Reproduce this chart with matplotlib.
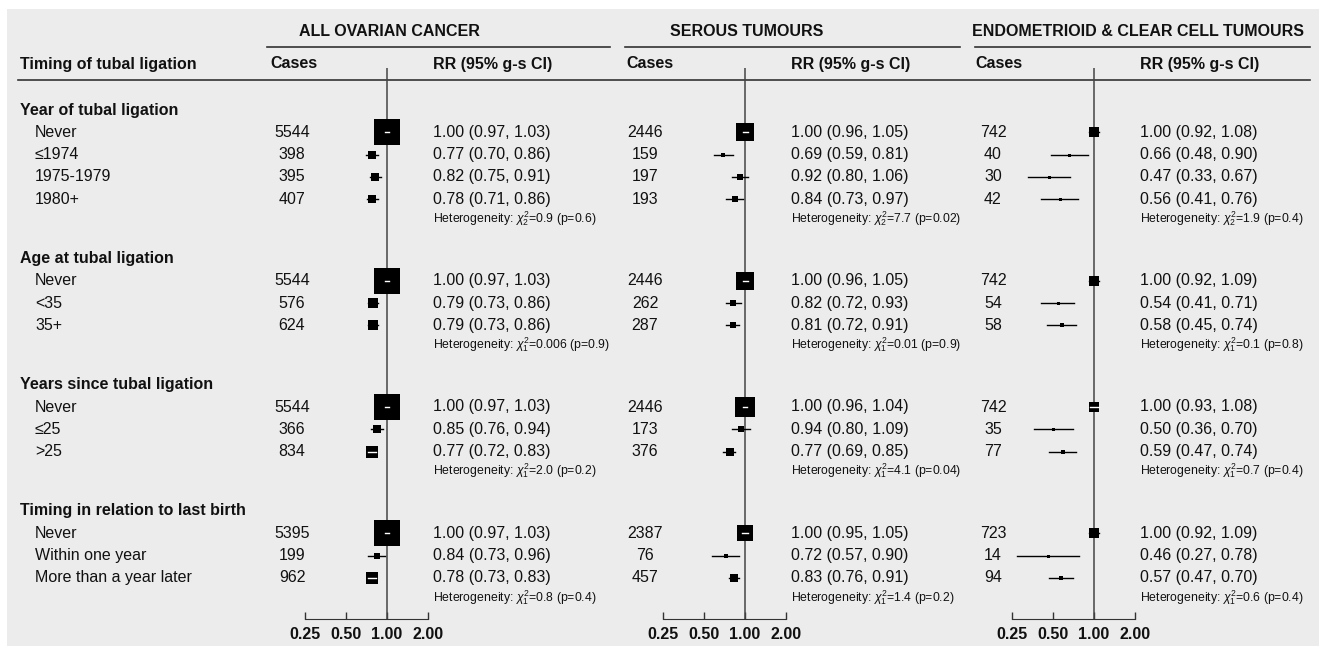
import numpy as np
import matplotlib
matplotlib.use("Agg")
import matplotlib.pyplot as plt
from matplotlib.patches import Rectangle

plt.rcParams['font.family'] = ['Liberation Sans', 'DejaVu Sans']
plt.rcParams['mathtext.fontset'] = 'custom'
plt.rcParams['mathtext.rm'] = 'Liberation Sans'
plt.rcParams['mathtext.it'] = 'Liberation Sans:italic'

# ---- data ----
sections = ['Year of tubal ligation', 'Age at tubal ligation',
            'Years since tubal ligation', 'Timing in relation to last birth']
levels = [['Never', '\u22641974', '1975-1979', '1980+'],
          ['Never', '<35', '35+'],
          ['Never', '\u226425', '>25'],
          ['Never', 'Within one year', 'More than a year later']]
panel_titles = ['ALL OVARIAN CANCER', 'SEROUS TUMOURS', 'ENDOMETRIOID & CLEAR CELL TUMOURS']

all_cases = [5544, 398, 395, 407, 5544, 576, 624, 5544, 366, 834, 5395, 199, 962]
all_rr = [1.00, 0.77, 0.82, 0.78, 1.00, 0.79, 0.79, 1.00, 0.85, 0.77, 1.00, 0.84, 0.78]
all_lo = [0.97, 0.70, 0.75, 0.71, 0.97, 0.73, 0.73, 0.97, 0.76, 0.72, 0.97, 0.73, 0.73]
all_hi = [1.03, 0.86, 0.91, 0.86, 1.03, 0.86, 0.86, 1.03, 0.94, 0.83, 1.03, 0.96, 0.83]
all_het = [(2, '0.9', '0.6'), (1, '0.006', '0.9'), (1, '2.0', '0.2'), (1, '0.8', '0.4')]

ser_cases = [2446, 159, 197, 193, 2446, 262, 287, 2446, 173, 376, 2387, 76, 457]
ser_rr = [1.00, 0.69, 0.92, 0.84, 1.00, 0.82, 0.81, 1.00, 0.94, 0.77, 1.00, 0.72, 0.83]
ser_lo = [0.96, 0.59, 0.80, 0.73, 0.96, 0.72, 0.72, 0.96, 0.80, 0.69, 0.95, 0.57, 0.76]
ser_hi = [1.05, 0.81, 1.06, 0.97, 1.05, 0.93, 0.91, 1.04, 1.09, 0.85, 1.05, 0.90, 0.91]
ser_het = [(2, '7.7', '0.02'), (1, '0.01', '0.9'), (1, '4.1', '0.04'), (1, '1.4', '0.2')]

ecc_cases = [742, 40, 30, 42, 742, 54, 58, 742, 35, 77, 723, 14, 94]
ecc_rr = [1.00, 0.66, 0.47, 0.56, 1.00, 0.54, 0.58, 1.00, 0.50, 0.59, 1.00, 0.46, 0.57]
ecc_lo = [0.92, 0.48, 0.33, 0.41, 0.92, 0.41, 0.45, 0.93, 0.36, 0.47, 0.92, 0.27, 0.47]
ecc_hi = [1.08, 0.90, 0.67, 0.76, 1.09, 0.71, 0.74, 1.08, 0.70, 0.74, 1.09, 0.78, 0.70]
ecc_het = [(2, '1.9', '0.4'), (1, '0.1', '0.8'), (1, '0.7', '0.4'), (1, '0.6', '0.4')]

ticks = [0.25, 0.5, 1.0, 2.0]
tick_labels = ['0.25', '0.50', '1.00', '2.00']

panels = [(all_cases, all_rr, all_lo, all_hi, all_het),
          (ser_cases, ser_rr, ser_lo, ser_hi, ser_het),
          (ecc_cases, ecc_rr, ecc_lo, ecc_hi, ecc_het)]

# ---- layout (pixels) ----
W, H = 1319, 646
ink = '#111111'
fs = 11.5
fs_small = 8.8
row_h = 22.3
ppd = 41.0                      # pixels per doubling on the RR axis
one_x = [387, 745, 1094]        # x of RR = 1
cases_x = [292, 645, 993]
cases_head_x = [270, 626, 975]
rr_x = [433, 791, 1140]
title_x = [389, 747, 1138]
uline = [(267, 610), (625, 960), (975, 1310)]
axis_y = 619
xmin, xmax = 0.2, 2.3

head_y, item_y, het_y = [], [], []
y = 110
for lv in levels:
    head_y.append(y)
    for k in range(len(lv)):
        item_y.append(y + row_h * (k + 1))
    het_y.append(y + row_h * len(lv) + 19.5)
    y += row_h * (len(lv) + 1) + 37

fig = plt.figure(figsize=(W / 100, H / 100), dpi=100, facecolor='white')
fig.patches.append(Rectangle((7 / W, 0), 1, 1 - 9 / H, transform=fig.transFigure,
                             facecolor='#ececec', edgecolor='none', zorder=-10))

tax = fig.add_axes([0, 0, 1, 1])
tax.set_xlim(0, W)
tax.set_ylim(H, 0)
tax.axis('off')

# left label column
tax.text(20, 64, 'Timing of tubal ligation', fontsize=fs, fontweight='bold', color=ink, va='center')
tax.plot([18, 1310], [80, 80], color='#333333', lw=1.2)
i = 0
for s, lv in enumerate(levels):
    tax.text(20, head_y[s], sections[s], fontsize=fs, fontweight='bold', color=ink, va='center')
    for name in lv:
        tax.text(35, item_y[i], name, fontsize=fs, color=ink, va='center')
        i += 1

for p, (cases, rr, lo, hi, het) in enumerate(panels):
    tax.text(title_x[p], 31, panel_titles[p], fontsize=fs, fontweight='bold', color=ink,
             ha='center', va='center')
    tax.plot(uline[p], [47, 47], color='#333333', lw=1.2)
    tax.text(cases_head_x[p], 64, 'Cases', fontsize=fs, fontweight='bold', color=ink, va='center')
    tax.text(rr_x[p], 64, 'RR (95% g-s CI)', fontsize=fs, fontweight='bold', color=ink, va='center')

    for j in range(len(cases)):
        tax.text(cases_x[p], item_y[j], str(cases[j]), fontsize=fs, color=ink,
                 ha='center', va='center')
        tax.text(rr_x[p], item_y[j], '%.2f (%.2f, %.2f)' % (rr[j], lo[j], hi[j]),
                 fontsize=fs, color=ink, va='center')
    for s, (df, chi, pv) in enumerate(het):
        tax.text(rr_x[p], het_y[s], 'Heterogeneity: $\\chi^2_{%d}$=%s (p=%s)' % (df, chi, pv),
                 fontsize=fs_small, color=ink, va='center')

    # forest axes
    left = one_x[p] - ppd * np.log2(1 / xmin)
    width = ppd * np.log2(xmax / xmin)
    ax = fig.add_axes([left / W, 0, width / W, 1])
    ax.set_xscale('log', base=2)
    ax.set_xlim(xmin, xmax)
    ax.set_ylim(H, 0)
    ax.patch.set_visible(False)
    for sp in ['top', 'left', 'right']:
        ax.spines[sp].set_visible(False)
    ax.spines['bottom'].set_position(('data', axis_y))
    ax.spines['bottom'].set_bounds(0.25, 2.0)
    ax.spines['bottom'].set_color('#333333')
    ax.set_yticks([])
    ax.set_xticks(ticks)
    ax.set_xticks([], minor=True)
    ax.set_xticklabels(tick_labels, fontsize=fs, fontweight='bold', color=ink)
    ax.tick_params(axis='x', direction='in', length=5, width=1, color='#333333', pad=6)

    ax.vlines(1.0, 68, axis_y, color='#444444', lw=1.1)

    for j in range(len(rr)):
        se = (np.log(hi[j]) - np.log(lo[j])) / 3.92
        side = max(0.4 / se, 3.0)             # box side in pixels
        hw = side / 2 / ppd
        b_lo, b_hi = rr[j] * 2 ** (-hw), rr[j] * 2 ** hw
        inside = lo[j] >= b_lo and hi[j] <= b_hi
        if not inside:
            ax.plot([lo[j], hi[j]], [item_y[j], item_y[j]], color='black', lw=1.0)
        ax.plot(rr[j], item_y[j], marker='s', ms=side * 0.72, mew=0, color='black')
        if inside:
            ax.plot([lo[j], hi[j]], [item_y[j], item_y[j]], color='white', lw=1.0)

fig.savefig('out.png', dpi=100, facecolor='white')
